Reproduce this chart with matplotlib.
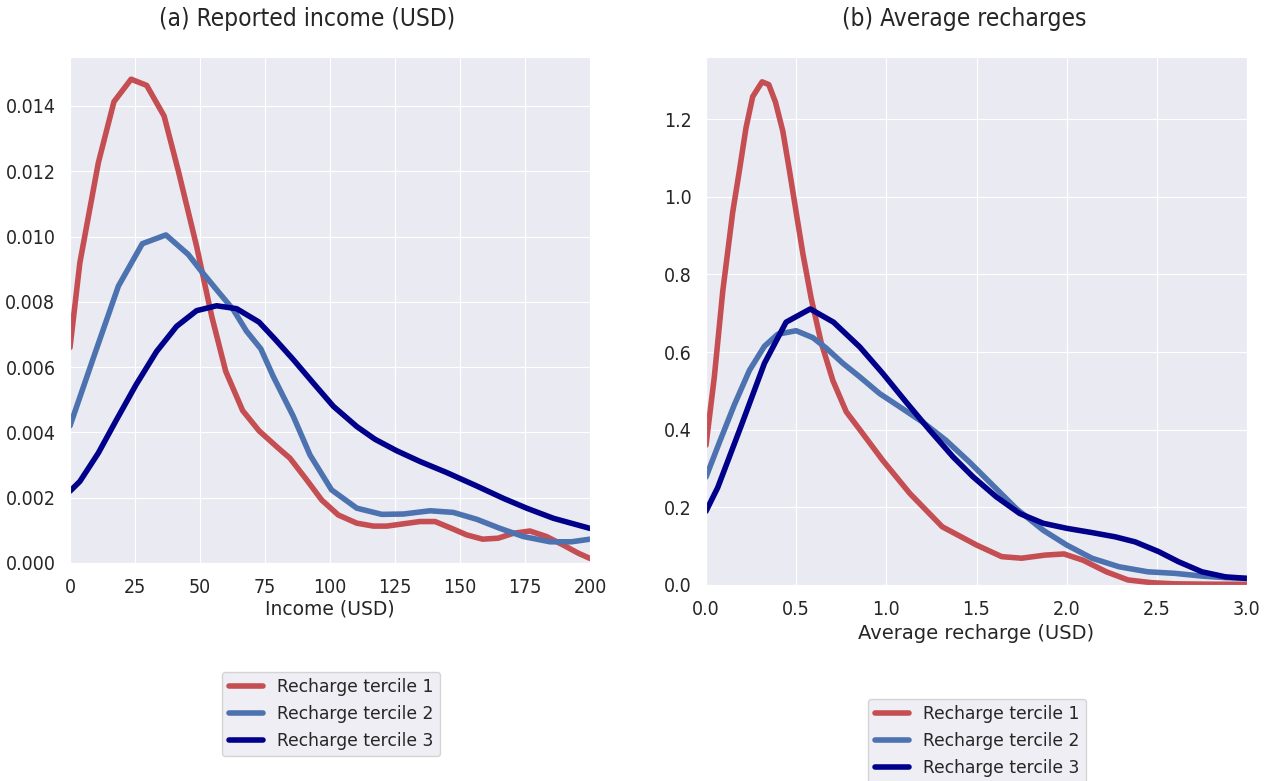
import matplotlib
matplotlib.use("Agg")
import matplotlib.pyplot as plt
from matplotlib import font_manager
import seaborn as sns

# reported income densities (x in USD)
inc_t1_x = [0, 3.8, 10.9, 16.9, 23.5, 29.5, 36.2, 41.7, 48.7, 54.5, 59.9, 66.4, 72.7, 80.1,
            84.6, 91, 96.8, 103.2, 110.3, 116.7, 121.8, 128.2, 134.6, 140.4, 146.8, 152.6,
            158.7, 164.7, 170.5, 176.9, 183.3, 189.7, 195.5, 200]
inc_t1_y = [0.0066, 0.0092, 0.01226, 0.01413, 0.01482, 0.01463, 0.01369, 0.0120, 0.0097, 0.00756,
            0.00587, 0.00467, 0.00405, 0.00352, 0.00321, 0.00255, 0.00193, 0.00147, 0.00122,
            0.00113, 0.00113, 0.0012, 0.00127, 0.00127, 0.00106, 0.00086, 0.00073, 0.00076,
            0.00091, 0.00098, 0.00081, 0.00055, 0.0003, 0.00014]

inc_t2_x = [0, 9.5, 18.6, 27.8, 36.9, 45.5, 50, 56.4, 62.8, 67.9, 73.4, 78.2, 85.9, 92.3, 100.6,
            110.3, 119.9, 128.2, 138.5, 147.4, 156.4, 165.4, 174.4, 184.6, 192.9, 200]
inc_t2_y = [0.0042, 0.0064, 0.00848, 0.00978, 0.01005, 0.00945, 0.00899, 0.00837, 0.00776,
            0.0071, 0.00656, 0.00571, 0.00449, 0.00331, 0.00224, 0.00168, 0.00149, 0.0015,
            0.0016, 0.00155, 0.00134, 0.00106, 0.00081, 0.00065, 0.00065, 0.00073]

inc_t3_x = [0, 3.8, 10.9, 17.9, 25.4, 33.3, 41, 48.7, 56.4, 64.1, 72.7, 78.8, 85.9, 93.6, 101.3,
            110.3, 117.3, 125.6, 134.6, 144.9, 156.4, 166.7, 175.6, 185.9, 200]
inc_t3_y = [0.0022, 0.0025, 0.00337, 0.00439, 0.00546, 0.00648, 0.00725, 0.00773, 0.00788,
            0.00779, 0.00738, 0.00686, 0.00623, 0.00551, 0.0048, 0.00418, 0.00379, 0.00344,
            0.00311, 0.00277, 0.00236, 0.00198, 0.00168, 0.00137, 0.00106]

# average recharge densities (x in USD)
rch_t1_x = [0, 0.046, 0.093, 0.148, 0.185, 0.222, 0.259, 0.311, 0.348, 0.385, 0.426, 0.463,
            0.5, 0.537, 0.583, 0.639, 0.704, 0.778, 0.853, 0.98, 1.13, 1.31, 1.5, 1.64, 1.75,
            1.88, 1.985, 2.09, 2.22, 2.34, 2.47, 2.6, 2.8, 3.0]
rch_t1_y = [0.36, 0.535, 0.757, 0.96, 1.067, 1.178, 1.258, 1.296, 1.289, 1.244, 1.169, 1.067,
            0.96, 0.854, 0.739, 0.624, 0.526, 0.446, 0.4, 0.321, 0.236, 0.15, 0.103, 0.073,
            0.069, 0.077, 0.08, 0.064, 0.034, 0.013, 0.006, 0.003, 0.002, 0.002]

rch_t2_x = [0, 0.074, 0.157, 0.241, 0.324, 0.398, 0.5, 0.593, 0.667, 0.759, 0.853, 0.963,
            1.074, 1.2, 1.33, 1.46, 1.59, 1.72, 1.87, 2.0, 2.14, 2.29, 2.45, 2.6, 2.75, 2.88, 3.0]
rch_t2_y = [0.278, 0.367, 0.464, 0.553, 0.615, 0.646, 0.655, 0.637, 0.61, 0.571, 0.536, 0.493,
            0.459, 0.42, 0.373, 0.317, 0.257, 0.197, 0.141, 0.103, 0.069, 0.047, 0.034, 0.03,
            0.023, 0.019, 0.017]

rch_t3_x = [0, 0.065, 0.195, 0.324, 0.444, 0.578, 0.707, 0.853, 0.982, 1.11, 1.24, 1.37,
            1.48, 1.61, 1.74, 1.87, 2.0, 2.14, 2.27, 2.38, 2.51, 2.62, 2.75, 2.88, 3.0]
rch_t3_y = [0.19, 0.251, 0.41, 0.571, 0.677, 0.711, 0.677, 0.613, 0.544, 0.471, 0.399, 0.33,
            0.279, 0.227, 0.184, 0.159, 0.146, 0.135, 0.124, 0.111, 0.086, 0.06, 0.034, 0.021,
            0.017]

labels = ["Recharge tercile 1", "Recharge tercile 2", "Recharge tercile 3"]
colors = ["#C44E52", "#4C72B0", "darkblue"]

sns.set_style("darkgrid")
plt.rcParams["font.family"] = ["DejaVu Sans"]

# narrow face for titles and ticks: condensed DejaVu if installed, else Liberation Sans
narrow = dict(family="Liberation Sans")
try:
    p = font_manager.findfont(font_manager.FontProperties(family="DejaVu Sans", stretch="condensed"),
                              fallback_to_default=False)
    if "ondensed" in p:
        narrow = dict(family="DejaVu Sans", stretch="condensed")
except Exception:
    pass

fig = plt.figure(figsize=(12.64, 7.81), dpi=100)
ax1 = fig.add_axes([70 / 1264, 1 - 563 / 781, 520 / 1264, 506 / 781])
ax2 = fig.add_axes([706 / 1264, 1 - 585 / 781, 541 / 1264, 528 / 781])

for xs, ys, c, lab in zip([inc_t1_x, inc_t2_x, inc_t3_x], [inc_t1_y, inc_t2_y, inc_t3_y], colors, labels):
    ax1.plot(xs, ys, color=c, lw=4, label=lab)
for xs, ys, c, lab in zip([rch_t1_x, rch_t2_x, rch_t3_x], [rch_t1_y, rch_t2_y, rch_t3_y], colors, labels):
    ax2.plot(xs, ys, color=c, lw=4, label=lab, solid_joinstyle="round")

ax1.set_xlim(0, 200)
ax1.set_ylim(0, 0.0155)
ax1.set_xticks([0, 25, 50, 75, 100, 125, 150, 175, 200])
ax1.set_yticks([0, 0.002, 0.004, 0.006, 0.008, 0.010, 0.012, 0.014])
ax1.set_yticklabels(["%.3f" % v for v in ax1.get_yticks()])
ax1.set_xlabel("Income (USD)", fontsize=13.5, labelpad=2)
ax1.set_title("(a) Reported income (USD)", fontsize=17.6, pad=22, x=0.456, **narrow)

ax2.set_xlim(0, 3.0)
ax2.set_ylim(0, 1.36)
ax2.set_xticks([0, 0.5, 1.0, 1.5, 2.0, 2.5, 3.0])
ax2.set_yticks([0, 0.2, 0.4, 0.6, 0.8, 1.0, 1.2])
ax2.set_xticklabels(["%.1f" % v for v in ax2.get_xticks()])
ax2.set_yticklabels(["%.1f" % v for v in ax2.get_yticks()])
ax2.set_xlabel("Average recharge (USD)", fontsize=14, labelpad=4)
ax2.set_title("(b) Average recharges", fontsize=17.6, pad=22, x=0.477, **narrow)

for ax in (ax1, ax2):
    for t in ax.get_xticklabels() + ax.get_yticklabels():
        t.set_fontproperties(font_manager.FontProperties(size=14, **narrow))
    ax.tick_params(pad=7)

ax1.legend(loc="center", bbox_to_anchor=(331 / 1264, 1 - 714 / 781),
           bbox_transform=fig.transFigure, fontsize=12.3, frameon=True)
ax2.legend(loc="center", bbox_to_anchor=(977 / 1264, 1 - 741 / 781),
           bbox_transform=fig.transFigure, fontsize=12.3, frameon=True)

fig.savefig("out.png", dpi=100)
